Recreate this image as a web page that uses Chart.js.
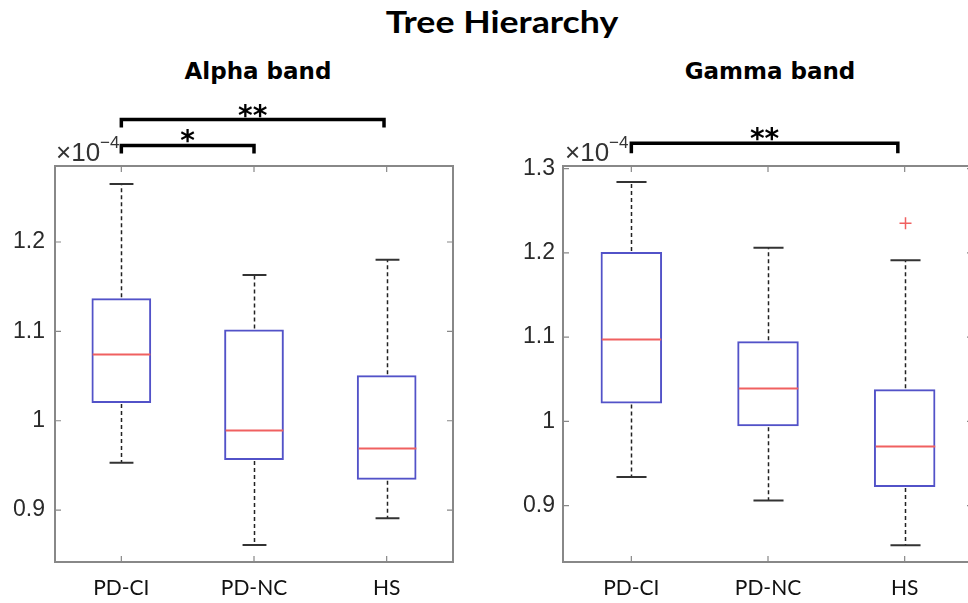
<!DOCTYPE html>
<html>
<head>
<meta charset="utf-8">
<script src="https://cdn.jsdelivr.net/npm/chart.js@4.4.1/dist/chart.umd.min.js"></script>
<style>
    html, body { margin: 0; padding: 0; background: #fff; overflow: hidden; width: 968px; height: 603px; }
    .title { position: absolute; color: #000; font-weight: bold; white-space: nowrap; }
    .panel { position: absolute; top: 0; height: 603px; }
</style>
</head>
<body>
<div class="title" style="left:502px; top:6px; font: bold 30px Lato, sans-serif; line-height:30px; transform: translateX(-50%) scaleX(1.19);">Tree Hierarchy</div>
<div class="title" style="left:258px; top:60px; font: bold 23px 'DejaVu Sans', sans-serif; line-height:23px; transform: translateX(-50%);">Alpha band</div>
<div class="title" style="left:770px; top:60px; font: bold 23px 'DejaVu Sans', sans-serif; line-height:23px; transform: translateX(-50%);">Gamma band</div>
<div class="panel" style="left:0; width:480px;"><canvas id="alphaChart"></canvas></div>
<div class="panel" style="left:480px; width:500px;"><canvas id="gammaChart"></canvas></div>

<script>
const categories = ['PD-CI', 'PD-NC', 'HS'];

// values are in units of 1e-4
const alphaLow = [0.953, 0.861, 0.891];
const alphaQ1 = [1.020, 0.956, 0.934];
const alphaMedian = [1.074, 0.989, 0.969];
const alphaQ3 = [1.137, 1.102, 1.051];
const alphaHigh = [1.265, 1.163, 1.180];
const alphaOutliers = [[], [], []];

const gammaLow = [0.934, 0.906, 0.853];
const gammaQ1 = [1.021, 0.994, 0.922];
const gammaMedian = [1.097, 1.039, 0.970];
const gammaQ3 = [1.201, 1.095, 1.038];
const gammaHigh = [1.284, 1.206, 1.191];
const gammaOutliers = [[], [], [1.235]];

const alphaTicks = [0.9, 1.0, 1.1, 1.2];
const alphaTickLabels = ['0.9', '1', '1.1', '1.2'];
const gammaTicks = [0.9, 1.0, 1.1, 1.2, 1.3];
const gammaTickLabels = ['0.9', '1', '1.1', '1.2', '1.3'];

// significance brackets (category index from/to, level in data units)
const alphaSigFrom = [0, 0];
const alphaSigTo = [1, 1.98];
const alphaSigLevel = [1.308, 1.337];
const alphaSigText = ['*', '**'];
const gammaSigFrom = [0];
const gammaSigTo = [1.95];
const gammaSigLevel = [1.330];
const gammaSigText = ['**'];

const BOX_WIDTH = 0.45;

function makeChart(canvasId, s) {
    const boxPlot = {
        id: 'boxPlot',
        afterDatasetsDraw(chart) {
            const ctx = chart.ctx, x = chart.scales.x, y = chart.scales.y;
            const unit = x.getPixelForValue(1) - x.getPixelForValue(0);
            const boxHalf = unit * BOX_WIDTH / 2, capHalf = unit * s.cap;
            ctx.save();
            categories.forEach((c, i) => {
                const cx = Math.round(x.getPixelForValue(i)) + 0.5;
                // dashed whiskers
                ctx.strokeStyle = '#222';
                ctx.lineWidth = 1.5;
                ctx.setLineDash([4, 3]);
                ctx.beginPath();
                ctx.moveTo(cx, y.getPixelForValue(s.q3[i]) - 1);
                ctx.lineTo(cx, y.getPixelForValue(s.high[i]));
                ctx.moveTo(cx, y.getPixelForValue(s.q1[i]) + 1);
                ctx.lineTo(cx, y.getPixelForValue(s.low[i]));
                ctx.stroke();
                ctx.setLineDash([]);
                // caps
                ctx.strokeStyle = '#333';
                ctx.lineWidth = 2;
                ctx.beginPath();
                [s.high[i], s.low[i]].forEach(v => {
                    const py = y.getPixelForValue(v);
                    ctx.moveTo(cx - capHalf, py);
                    ctx.lineTo(cx + capHalf, py);
                });
                ctx.stroke();
                // median
                ctx.strokeStyle = '#f06060';
                const my = y.getPixelForValue(s.median[i]);
                ctx.beginPath();
                ctx.moveTo(cx - boxHalf + 1, my);
                ctx.lineTo(cx + boxHalf - 1, my);
                ctx.stroke();
                // outliers
                ctx.lineWidth = 1.5;
                s.outliers[i].forEach(v => {
                    const py = y.getPixelForValue(v);
                    ctx.beginPath();
                    ctx.moveTo(cx - 6, py); ctx.lineTo(cx + 6, py);
                    ctx.moveTo(cx, py - 6); ctx.lineTo(cx, py + 6);
                    ctx.stroke();
                });
            });
            ctx.restore();
        },
        afterDraw(chart) {
            const ctx = chart.ctx, x = chart.scales.x, y = chart.scales.y, a = chart.chartArea;
            ctx.save();
            // axes box with inward ticks
            ctx.strokeStyle = '#888';
            ctx.lineWidth = 2;
            ctx.strokeRect(a.left, a.top, a.right - a.left, a.bottom - a.top);
            ctx.lineWidth = 1.2;
            ctx.beginPath();
            s.ticks.forEach(v => {
                const py = y.getPixelForValue(v);
                ctx.moveTo(a.left, py); ctx.lineTo(a.left + 6, py);
                ctx.moveTo(a.right, py); ctx.lineTo(a.right - 6, py);
            });
            categories.forEach((c, i) => {
                const px = x.getPixelForValue(i);
                ctx.moveTo(px, a.bottom); ctx.lineTo(px, a.bottom - 6);
                ctx.moveTo(px, a.top); ctx.lineTo(px, a.top + 6);
            });
            ctx.stroke();
            // exponent label
            ctx.fillStyle = '#333';
            ctx.textBaseline = 'alphabetic';
            ctx.textAlign = 'left';
            ctx.font = '26px "Liberation Sans"';
            const ex = a.left + s.expShift;
            ctx.fillText('\u00d710', ex, a.top - 5);
            const w = ctx.measureText('\u00d710').width;
            ctx.font = '17px "Liberation Sans"';
            ctx.fillText('\u22124', ex + w, a.top - 18);
            // significance brackets
            ctx.strokeStyle = '#000';
            ctx.fillStyle = '#000';
            ctx.lineWidth = 3.5;
            ctx.textAlign = 'center';
            ctx.font = 'bold 28px "DejaVu Sans"';
            s.sigFrom.forEach((f, k) => {
                const x1 = x.getPixelForValue(f), x2 = x.getPixelForValue(s.sigTo[k]);
                const py = y.getPixelForValue(s.sigLevel[k]);
                ctx.beginPath();
                ctx.moveTo(x1, py + s.drop);
                ctx.lineTo(x1, py);
                ctx.lineTo(x2, py);
                ctx.lineTo(x2, py + s.drop);
                ctx.stroke();
                ctx.fillText(s.sigText[k], (x1 + x2) / 2, py + 5);
            });
            ctx.restore();
        }
    };

    return new Chart(document.getElementById(canvasId), {
        type: 'bar',
        data: {
            labels: categories,
            datasets: [{
                data: categories.map((c, i) => [s.q1[i], s.q3[i]]),
                backgroundColor: 'rgba(0,0,0,0)',
                borderColor: '#5252c8',
                borderWidth: 2,
                borderSkipped: false,
                barPercentage: BOX_WIDTH,
                categoryPercentage: 1
            }]
        },
        options: {
            responsive: true,
            maintainAspectRatio: false,
            animation: false,
            layout: { padding: { top: 166, right: s.padRight, left: 0, bottom: 0 } },
            plugins: { legend: { display: false }, tooltip: { enabled: false } },
            scales: {
                x: {
                    grid: { display: false, drawTicks: false },
                    border: { display: false },
                    ticks: { color: '#111', font: { family: 'Lato', size: 21 }, padding: 14, maxRotation: 0 },
                    afterFit: sc => { sc.height = 41; }
                },
                y: {
                    min: s.min,
                    max: s.max,
                    grid: { display: false, drawTicks: false },
                    border: { display: false },
                    afterBuildTicks: sc => { sc.ticks = s.ticks.map(v => ({ value: v })); },
                    ticks: {
                        callback: (v, i) => s.tickLabels[i],
                        color: '#2a2a2a',
                        font: { family: 'Liberation Sans', size: 23 },
                        padding: s.tickPad
                    },
                    afterFit: sc => { sc.width = s.yWidth; }
                }
            }
        },
        plugins: [boxPlot]
    });
}

makeChart('alphaChart', {
    low: alphaLow, q1: alphaQ1, median: alphaMedian, q3: alphaQ3, high: alphaHigh, outliers: alphaOutliers,
    ticks: alphaTicks, tickLabels: alphaTickLabels, min: 0.842, max: 1.285,
    sigFrom: alphaSigFrom, sigTo: alphaSigTo, sigLevel: alphaSigLevel, sigText: alphaSigText,
    yWidth: 55, padRight: 27, cap: 0.09, drop: 8, expShift: 1, tickPad: 10
});

makeChart('gammaChart', {
    low: gammaLow, q1: gammaQ1, median: gammaMedian, q3: gammaQ3, high: gammaHigh, outliers: gammaOutliers,
    ticks: gammaTicks, tickLabels: gammaTickLabels, min: 0.833, max: 1.303,
    sigFrom: gammaSigFrom, sigTo: gammaSigTo, sigLevel: gammaSigLevel, sigText: gammaSigText,
    yWidth: 83, padRight: 7, cap: 0.11, drop: 10, expShift: 2, tickPad: 8
});
</script>
</body>
</html>
